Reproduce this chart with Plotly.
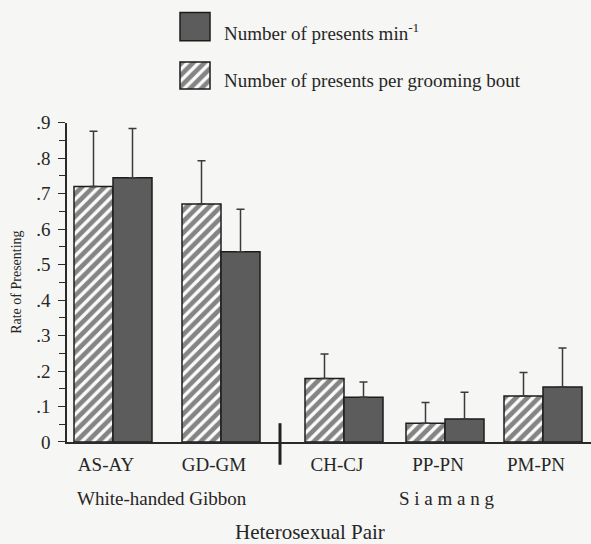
import plotly.graph_objects as go

# Rate of presenting for each heterosexual pair
pairs = ["AS-AY", "GD-GM", "CH-CJ", "PP-PN", "PM-PN"]
presents_per_bout = [0.720, 0.671, 0.179, 0.053, 0.130]
presents_per_bout_sd = [0.156, 0.122, 0.069, 0.058, 0.066]
presents_per_min = [0.745, 0.536, 0.126, 0.065, 0.155]
presents_per_min_sd = [0.139, 0.120, 0.043, 0.075, 0.110]

species = ["White-handed Gibbon", "S i a m a n g"]
y_tick_vals = [0, 0.1, 0.2, 0.3, 0.4, 0.5, 0.6, 0.7, 0.8, 0.9]
y_tick_text = ["0", ".1", ".2", ".3", ".4", ".5", ".6", ".7", ".8", ".9"]

# ---- layout geometry (pixels) ----
W, H = 591, 544
L, R, T, B = 67, 0, 5, 102
PW, PH = W - L - R, H - T - B
X0_PX, Y0_PX = L, H - B          # plot-area origin on the page


def px_x(p):
    return (p - X0_PX) / PW


def px_y(p):
    return (Y0_PX - p) / PH


pair_x = [46, 154, 277, 378, 476]   # group centres on the x axis
bar_w = 39
label_shift = 7
divider_x = 213
species_px = [162, 446]             # page x of the species captions

FONT = "Liberation Serif, Times New Roman, serif"
INK = "#262626"
BG = "#f6f6f4"
DARK = "#5c5c5c"
HATCH = dict(shape="/", size=8, solidity=0.58, fgcolor="#0d0d0d",
             bgcolor="#fbfbfb")

fig = go.Figure()

fig.add_trace(go.Bar(
    x=[p - bar_w / 2 for p in pair_x], y=presents_per_bout, width=bar_w,
    marker=dict(color="#fbfbfb", line=dict(color="#1c1c1c", width=1.5),
                pattern=HATCH),
    error_y=dict(type="data", symmetric=False, array=presents_per_bout_sd,
                 arrayminus=[0] * len(pairs), color="#3a3a3a",
                 thickness=1.5, width=4),
    showlegend=False, xaxis="x", yaxis="y",
))
fig.add_trace(go.Bar(
    x=[p + bar_w / 2 for p in pair_x], y=presents_per_min, width=bar_w,
    marker=dict(color=DARK, line=dict(color="#1c1c1c", width=1.5)),
    error_y=dict(type="data", symmetric=False, array=presents_per_min_sd,
                 arrayminus=[0] * len(pairs), color="#3a3a3a",
                 thickness=1.5, width=4),
    showlegend=False, xaxis="x", yaxis="y",
))

# Legend keys drawn as bars on a small inset axis (pixel units)
fig.add_trace(go.Bar(
    x=[195], y=[28.5], base=[7.5], width=30,
    marker=dict(color=DARK, line=dict(color="#1c1c1c", width=1.5)),
    showlegend=False, xaxis="x2", yaxis="y2", hoverinfo="skip",
))
fig.add_trace(go.Bar(
    x=[195], y=[27.5], base=[57.5], width=30,
    marker=dict(color="#fbfbfb", line=dict(color="#1c1c1c", width=1.5),
                pattern=HATCH),
    showlegend=False, xaxis="x2", yaxis="y2", hoverinfo="skip",
))

annotations = [
    dict(text="Number of presents min<sup>-1</sup>", x=px_x(222), y=px_y(27),
         xref="paper", yref="paper", xanchor="left", yanchor="middle",
         showarrow=False, font=dict(size=19, family=FONT, color=INK)),
    dict(text="Number of presents per grooming bout", x=px_x(222), y=px_y(76),
         xref="paper", yref="paper", xanchor="left", yanchor="middle",
         showarrow=False, font=dict(size=19, family=FONT, color=INK)),
    dict(text="Rate of Presenting", x=px_x(17), y=px_y(281), textangle=-90,
         xref="paper", yref="paper", xanchor="center", yanchor="middle",
         showarrow=False, font=dict(size=14, family=FONT, color=INK)),
    dict(text="Heterosexual Pair", x=px_x(310), y=px_y(533),
         xref="paper", yref="paper", xanchor="center", yanchor="middle",
         showarrow=False, font=dict(size=21, family=FONT, color=INK)),
]
for name, sx in zip(species, species_px):
    annotations.append(dict(
        text=name, x=px_x(sx), y=px_y(499), xref="paper", yref="paper",
        xanchor="center", yanchor="middle", showarrow=False,
        font=dict(size=19, family=FONT, color=INK)))

fig.update_layout(
    width=W, height=H,
    margin=dict(l=L, r=R, t=T, b=B, pad=0),
    paper_bgcolor=BG, plot_bgcolor=BG,
    barmode="overlay",
    font=dict(family=FONT, color=INK),
    xaxis=dict(range=[0, PW], showgrid=False, zeroline=False,
               showline=True, linecolor="#2a2a2a", linewidth=1.5,
               tickvals=[p - label_shift for p in pair_x], ticktext=pairs,
               ticks="", tickfont=dict(size=19, family=FONT, color=INK),
               ticklabelstandoff=4, fixedrange=True),
    yaxis=dict(range=[0, 0.9], domain=[0, px_y(119)], showgrid=False,
               zeroline=False, showline=True, linecolor="#2a2a2a",
               linewidth=1.5, tickvals=y_tick_vals, ticktext=y_tick_text,
               ticks="outside", ticklen=7, tickwidth=1.3, tickcolor="#2a2a2a",
               minor=dict(dtick=0.05, ticks="outside", ticklen=6,
                          tickwidth=1.3, tickcolor="#2a2a2a"),
               tickfont=dict(size=19, family=FONT, color=INK),
               ticklabelstandoff=4, fixedrange=True),
    xaxis2=dict(range=[178, 212], domain=[px_x(178), px_x(212)],
                anchor="y2", visible=False, fixedrange=True),
    yaxis2=dict(range=[88, 5], domain=[px_y(88), px_y(5)],
                anchor="x2", visible=False, fixedrange=True),
    shapes=[dict(type="line", xref="paper", yref="paper",
                 x0=divider_x / PW, x1=divider_x / PW,
                 y0=px_y(423), y1=px_y(465),
                 line=dict(color="#222222", width=3))],
    annotations=annotations,
)

fig.write_html("out.html")
